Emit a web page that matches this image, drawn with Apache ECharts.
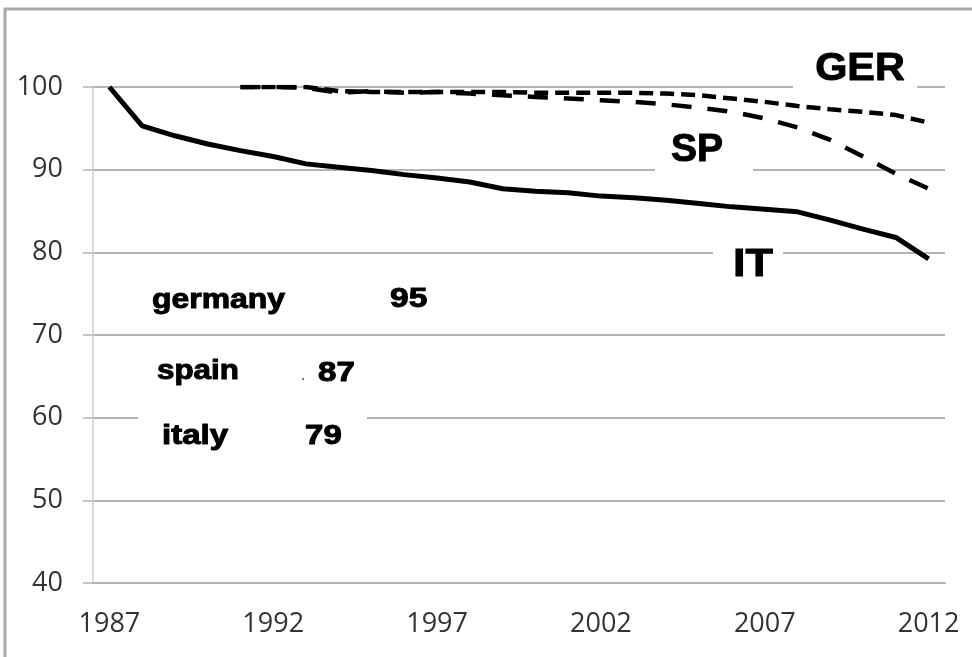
<!DOCTYPE html>
<html>
<head>
<meta charset="utf-8">
<script src="https://cdn.jsdelivr.net/npm/echarts@6/dist/echarts.min.js"></script>
<style>
  html, body { margin: 0; padding: 0; background: #fff; }
  #chart { width: 972px; height: 657px; }
</style>
</head>
<body>
<div id="chart"></div>
<script>
// categories
var years = ['1987', '1988', '1989', '1990', '1991', '1992', '1993', '1994', '1995', '1996',
  '1997', '1998', '1999', '2000', '2001', '2002', '2003', '2004', '2005', '2006',
  '2007', '2008', '2009', '2010', '2011', '2012'];

// series (index, 1987 = 100)
var italy = [100, 95.3, 94.1, 93.1, 92.3, 91.6, 90.7, 90.3, 89.9, 89.4, 89.0, 88.5, 87.7,
  87.4, 87.2, 86.8, 86.6, 86.3, 85.9, 85.5, 85.2, 84.9, 83.9, 82.8, 81.8, 79.2];
var germany = [null, null, null, null, 100, 100, 100, 99.5, 99.4, 99.4, 99.4, 99.4, 99.4,
  99.3, 99.3, 99.3, 99.3, 99.2, 99.0, 98.6, 98.2, 97.7, 97.3, 97.0, 96.6, 95.7];
var spain = [null, null, null, null, 100, 100, 99.9, 99.3, 99.5, 99.3, 99.4, 99.2, 99.0,
  98.8, 98.6, 98.4, 98.2, 97.9, 97.5, 97.0, 96.2, 95.1, 93.6, 91.6, 89.5, 87.7];

// text in the chart
var lineTags = ['GER', 'SP', 'IT'];
var tableNames = ['germany', 'spain', 'italy'];
var tableValues = ['95', '87', '79'];

var myChart = echarts.init(document.getElementById('chart'));

var bold = 'bold 28px "Liberation Sans", Arial, sans-serif';
var big = 'bold 39px "Liberation Sans", Arial, sans-serif';

function txt(str, x, y, font, align, sx) {
  return {
    type: 'text', x: x, y: y, scaleX: sx || 1, z: 100,
    style: {
      text: str, font: font, fill: '#000', stroke: '#000', lineWidth: 1,
      align: align || 'left', verticalAlign: 'middle'
    }
  };
}
function box(x, y, w, h) {
  return { type: 'rect', z: 95, shape: { x: x, y: y, width: w, height: h }, style: { fill: '#fff' } };
}

var option = {
  backgroundColor: '#fff',
  animation: false,
  grid: { left: 93, right: 27, top: 87, bottom: 74 },
  xAxis: {
    type: 'category',
    data: years,
    boundaryGap: true,
    axisLine: { lineStyle: { color: '#b5b5b5', width: 2 } },
    axisTick: { interval: 0, length: 9, lineStyle: { color: '#b5b5b5', width: 1.5 } },
    axisLabel: {
      interval: 4, margin: 28, color: '#333',
      fontFamily: '"Open Sans", sans-serif', fontSize: 27
    },
    splitLine: { show: false }
  },
  yAxis: {
    type: 'value',
    min: 40, max: 100, interval: 10,
    axisLine: { show: true, lineStyle: { color: '#cfcfcf', width: 1.5 } },
    axisTick: { show: true, length: 10, lineStyle: { color: '#b5b5b5', width: 1.5 } },
    axisLabel: {
      margin: 30, color: '#333',
      fontFamily: '"Open Sans", sans-serif', fontSize: 27
    },
    splitLine: { lineStyle: { color: '#b5b5b5', width: 2 } }
  },
  series: [
    {
      name: 'IT', type: 'line', data: italy, symbol: 'none',
      lineStyle: { color: '#000', width: 5 }
    },
    {
      name: 'GER', type: 'line', data: germany, symbol: 'none',
      lineStyle: { color: '#000', width: 4.5, type: [14, 7] }
    },
    {
      name: 'SP', type: 'line', data: spain, symbol: 'none',
      lineStyle: { color: '#000', width: 4.5, type: [20, 16] }
    }
  ],
  graphic: [
    // page frame
    { type: 'polyline', z: 100, shape: { points: [[5, 657], [5, 9], [972, 9]] },
      style: { stroke: '#a8a8a8', lineWidth: 3, fill: null } },
    // white label boxes
    box(793, 45, 124, 52),
    box(655, 128, 98, 50),
    box(713, 240, 70, 50),
    box(138, 350, 229, 105),
    // line tags
    txt(lineTags[0], 860, 69, big, 'center', 1.06),
    txt(lineTags[1], 697, 150, big, 'center', 1.0),
    txt(lineTags[2], 753, 265, big, 'center', 1.15),
    // small table
    txt(tableNames[0], 152, 300, bold, 'left', 1.14),
    txt(tableValues[0], 390, 299, bold, 'left', 1.2),
    txt(tableNames[1], 157, 371, bold, 'left', 1.12),
    { type: 'circle', z: 100, shape: { cx: 303, cy: 379, r: 1.2 }, style: { fill: '#777' } },
    txt(tableValues[1], 318, 373, bold, 'left', 1.18),
    txt(tableNames[2], 162, 436, bold, 'left', 1.18),
    txt(tableValues[2], 305, 436, bold, 'left', 1.18)
  ]
};

option && myChart.setOption(option);
</script>
</body>
</html>
